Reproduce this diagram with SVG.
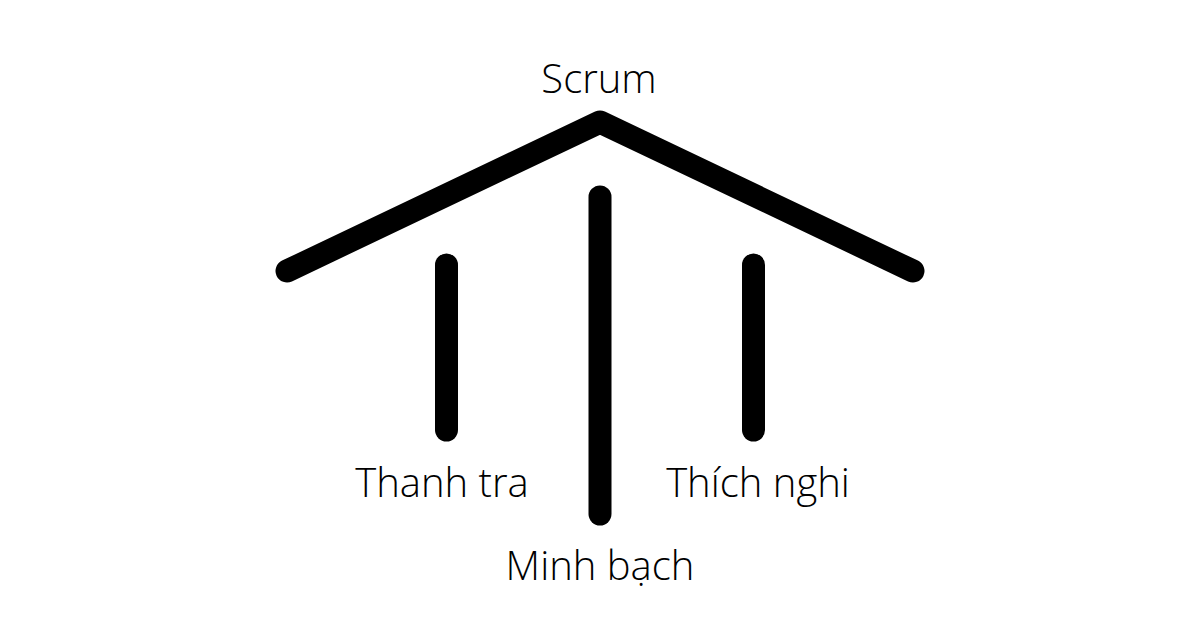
<svg xmlns="http://www.w3.org/2000/svg" width="1200" height="630" viewBox="0 0 1200 630">
<style>
.s{fill:none;stroke:#000;stroke-width:23;stroke-linecap:round;stroke-linejoin:round}
.t{font-family:"Open Sans","Noto Sans",sans-serif;font-weight:300;font-size:40px;fill:#000;text-anchor:middle}
</style>
<rect width="1200" height="630" fill="#fff"/>
<g id="connectors">
<polyline class="s" points="287,271 600,122 913,271"/>
<line class="s" x1="446.5" y1="265" x2="446.5" y2="430"/>
<line class="s" x1="600" y1="197" x2="600" y2="514"/>
<line class="s" x1="753.5" y1="265" x2="753.5" y2="430"/>
</g>
<g id="scrum"><text class="t" x="599" y="93">Scrum</text></g>
<g id="thanh-tra"><text class="t" x="442" y="497">Thanh tra</text></g>
<g id="minh-bach"><text class="t" x="600" y="580">Minh bạch</text></g>
<g id="thich-nghi"><text class="t" x="758" y="497">Thích nghi</text></g>
</svg>
